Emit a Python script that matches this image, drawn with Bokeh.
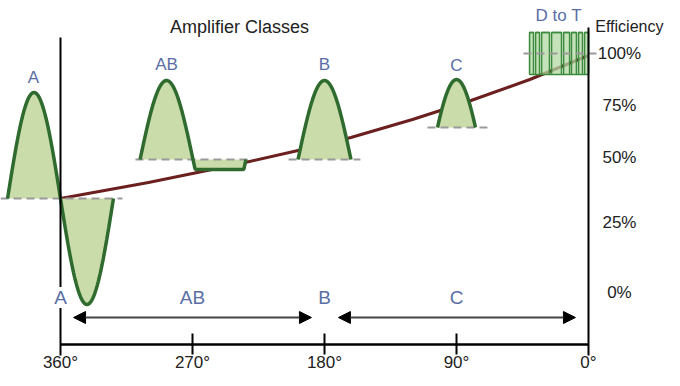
import numpy as np
from bokeh.plotting import figure
from bokeh.models import Range1d, Arrow, NormalHead
from bokeh.core.properties import value
from bokeh.embed import file_html
from bokeh.resources import INLINE

# ---------------- data ----------------
degree_ticks = [360, 270, 180, 90, 0]
degree_labels = ["360°", "270°", "180°", "90°", "0°"]

eff_levels = [325, 273, 221, 156, 86]
eff_labels = ["100%", "75%", "50%", "25%", "0%"]

# efficiency curve (conduction angle in degrees, diagram height)
curve_deg = [360, 300, 240, 198, 162, 120, 82, 40, 0]
curve_y = [180, 196, 214, 228, 241, 259, 277, 299, 323]

# class ranges on the bottom scale
class_names = ["A", "AB", "B", "C"]
class_deg = [360, 270, 180, 90]
arrow_start = [351.1, 170.5]
arrow_end = [188.9, 8.9]

# waveform labels
wave_names = ["A", "AB", "B", "C", "D to T"]
wave_label_deg = [378.4, 287.7, 180.0, 90.0, 20.3]
wave_label_y = [301, 314, 314, 313, 363]

# waveform parameters
half_period = 36.1
wave_a = dict(start=396.1, base=180, amp=106)
wave_ab = dict(start=305.75, base=219, amp=79, clip=10)
wave_b = dict(start=198.05, base=219, amp=79)
wave_c = dict(center=90.0, base=251, amp=84, half_width=12.95)

# D to T switching pulses
dt_left = [40.2, 36.1, 32.0, 25.2, 17.0, 11.6, 6.8, 2.7]
dt_right = [37.5, 33.4, 26.6, 18.4, 12.9, 8.2, 4.1, 0.0]
dt_low, dt_high = 304, 346

# dashed zero lines (from, to, level)
zero_from = [400.9, 308.9, 204.5, 109.8, 44.3]
zero_to = [317.7, 230.5, 155.5, 68.2, -6.1]
zero_y = [180, 219, 219, 251, 325]

# ---------------- styling ----------------
FONT = value("Liberation Sans")
GREEN = "#2f6b2f"
FILL = "#c9dca9"
LBL = "#5a6ea5"
CURVE = "#6b1f1f"

p = figure(width=664, height=370,
           x_range=Range1d(400.91, -51.82), y_range=Range1d(8, 378),
           output_backend="svg", toolbar_location=None, min_border=0,
           x_axis_type=None, y_axis_type=None)
p.grid.visible = False
p.outline_line_color = None
p.background_fill_color = "white"


def sine_cycle(start, base, amp, cycles=1.0, clip=None, n=160):
    d = np.linspace(0, 2 * half_period * cycles, n)
    y = base + amp * np.sin(np.pi * d / half_period)
    if clip is not None:
        y = np.maximum(y, base - clip)
    return start - d, y


xa, ya = sine_cycle(wave_a["start"], wave_a["base"], wave_a["amp"])
xab, yab = sine_cycle(wave_ab["start"], wave_ab["base"], wave_ab["amp"], clip=wave_ab["clip"])
xb, yb = sine_cycle(wave_b["start"], wave_b["base"], wave_b["amp"], cycles=0.5)
dc = np.linspace(-wave_c["half_width"], wave_c["half_width"], 100)
phase = np.pi * dc / half_period
phi = np.pi * wave_c["half_width"] / half_period
xc = wave_c["center"] - dc
yc = wave_c["base"] + wave_c["amp"] * (np.cos(phase) - np.cos(phi))

# efficiency curve (behind)
p.line(curve_deg, curve_y, line_color=CURVE, line_width=3, line_join="round")

# fills
for x, y, b in [(xa, ya, wave_a["base"]), (xab, yab, wave_ab["base"]),
                (xb, yb, wave_b["base"]), (xc, yc, wave_c["base"])]:
    p.varea(x=x, y1=np.full_like(x, b), y2=y, fill_color=FILL)

# D to T pulses
p.quad(left=dt_left, right=dt_right, bottom=dt_low, top=dt_high,
       fill_color="#b3d8a3", fill_alpha=0.75, line_color=None)
sq_x, sq_y = [], []
for l, r in zip(dt_left, dt_right):
    sq_x += [l, l, r, r]
    sq_y += [dt_low, dt_high, dt_high, dt_low]
p.line(sq_x, sq_y, line_color="#3d8b3d", line_width=1.3)
p.quad(left=dt_left, right=dt_right, bottom=dt_low, top=dt_high,
       fill_color=None, line_color="#3d8b3d", line_width=1.3)

# dashed zero lines
p.segment(x0=zero_from, y0=zero_y, x1=zero_to, y1=zero_y,
          line_color="#9a9a9a", line_width=2, line_dash="8 5")

# waveform outlines
for x, y in [(xa, ya), (xab, yab), (xb, yb), (xc, yc)]:
    p.line(x, y, line_color=GREEN, line_width=3.5)

# axes frame
p.segment(x0=[360, 0], y0=[23, 23], x1=[360, 0], y1=[341, 351],
          line_color="black", line_width=2)
p.segment(x0=[360], y0=[34], x1=[0], y1=[34], line_color="black", line_width=2.5)
inner = degree_ticks[1:-1]
p.segment(x0=inner, y0=[45] * len(inner), x1=inner, y1=[24] * len(inner),
          line_color="black", line_width=2)

# arrows
for xs, xe in zip(arrow_start, arrow_end):
    p.add_layout(Arrow(x_start=xs, y_start=61, x_end=xe, y_end=61,
                       line_color="#444444", line_width=2,
                       start=NormalHead(size=12, fill_color="black", line_color="black"),
                       end=NormalHead(size=12, fill_color="black", line_color="black")))

# texts
p.text(x=degree_ticks, y=[16.5] * len(degree_ticks), text=degree_labels,
       text_font=FONT, text_font_size="17px", text_color="#222222",
       text_align="center", text_baseline="middle")
p.text(x=class_deg, y=[81] * len(class_deg), text=class_names,
       text_font=FONT, text_font_size="19px", text_color=LBL,
       text_align="center", text_baseline="middle",
       background_fill_color="white")
p.text(x=wave_label_deg, y=wave_label_y, text=wave_names,
       text_font=FONT, text_font_size="17px", text_color=LBL,
       text_align="center", text_baseline="middle")
p.text(x=[-21.1] * len(eff_levels), y=eff_levels, text=eff_labels,
       text_font=FONT, text_font_size="17px", text_color="#222222",
       text_align="center", text_baseline="middle")
p.text(x=[-51.1], y=[352], text=["Efficiency"],
       text_font=FONT, text_font_size="16px", text_color="#222222",
       text_align="right", text_baseline="middle")
p.text(x=[238], y=[352], text=["Amplifier Classes"],
       text_font=FONT, text_font_size="18px", text_color="#222222",
       text_align="center", text_baseline="middle")

open("out.html", "w").write(file_html(p, INLINE))
